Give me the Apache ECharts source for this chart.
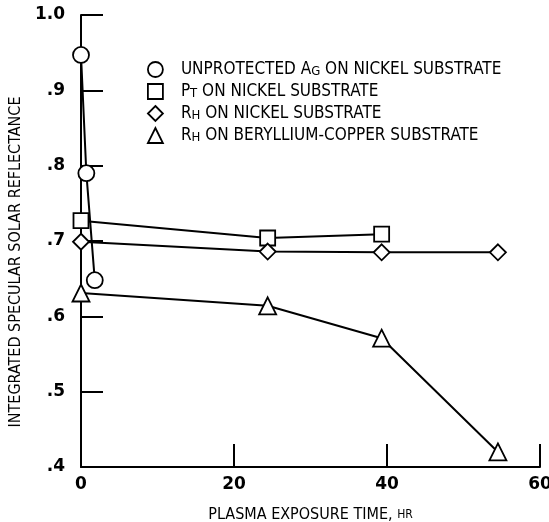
<!DOCTYPE html>
<html><head><meta charset="utf-8">
<script src="https://cdn.jsdelivr.net/npm/echarts@6/dist/echarts.min.js"></script>
<style>html,body{margin:0;padding:0;background:#fff}#c{width:549px;height:522px}</style>
</head><body><div id="c"></div>
<script>
const seriesNames = ['UNPROTECTED AG ON NICKEL SUBSTRATE','PT ON NICKEL SUBSTRATE','RH ON NICKEL SUBSTRATE','RH ON BERYLLIUM-COPPER SUBSTRATE'];
const agX = [0, 0.7, 1.8];
const agY = [0.947, 0.79, 0.648];
const ptX = [0, 24.4, 39.3];
const ptY = [0.727, 0.704, 0.709];
const rhNiX = [0, 24.4, 39.3, 54.5];
const rhNiY = [0.699, 0.686, 0.685, 0.685];
const rhBeX = [0, 24.4, 39.3, 54.5];
const rhBeY = [0.631, 0.614, 0.571, 0.42];
const yTickLabels = {'1':'1.0','0.9':'.9','0.8':'.8','0.7':'.7','0.6':'.6','0.5':'.5','0.4':'.4'};

const FONT = 'DejaVu Sans Condensed';
const TICKFONT = 'DejaVu Sans';
function zip(xs, ys){ return xs.map((x,i)=>[x, ys[i]]); }
const symbols = ['circle','rect','diamond','triangle'];
const sizes = [16, 15, 16, 17];
const datas = [zip(agX,agY), zip(ptX,ptY), zip(rhNiX,rhNiY), zip(rhBeX,rhBeY)];
const legendLabels = {
  [seriesNames[0]]: 'UNPROTECTED A{s|G} ON NICKEL SUBSTRATE',
  [seriesNames[1]]: 'P{s|T} ON NICKEL SUBSTRATE',
  [seriesNames[2]]: 'R{s|H} ON NICKEL SUBSTRATE',
  [seriesNames[3]]: 'R{s|H} ON BERYLLIUM-COPPER SUBSTRATE'
};
const mark = {color:'#fff', borderColor:'#000', borderWidth:1.8};
const chart = echarts.init(document.getElementById('c'));
chart.setOption({
  backgroundColor:'#fff',
  animation:false,
  textStyle:{fontFamily:FONT, color:'#000'},
  grid:{left:81, right:9, top:15, bottom:55, outerBoundsMode:'none', containLabel:false},
  legend:{
    orient:'vertical', left:142, top:56, itemGap:5, itemWidth:15, itemHeight:15,
    data: seriesNames.map((n,i)=>({name:n, icon:symbols[i], itemStyle:mark})),
    formatter: n => legendLabels[n],
    textStyle:{fontFamily:FONT, fontSize:17, color:'#000', padding:[0,0,0,13],
      rich:{s:{fontFamily:FONT, fontSize:13, color:'#000', verticalAlign:'bottom'}}},
    selectedMode:false
  },
  xAxis:{type:'value', min:0, max:60, interval:20,
    name:'PLASMA EXPOSURE TIME, {s|HR}', nameLocation:'middle', nameGap:40,
    nameTextStyle:{fontFamily:FONT, fontSize:16, color:'#000', rich:{s:{fontFamily:FONT,fontSize:12,color:'#000'}}},
    axisLine:{lineStyle:{color:'#000', width:2}},
    axisTick:{inside:true, length:23, lineStyle:{color:'#000', width:2}},
    axisLabel:{fontFamily:TICKFONT, fontWeight:'bold', fontSize:17, color:'#000', margin:9},
    splitLine:{show:false}},
  yAxis:{type:'value', min:0.4, max:1.0, interval:0.1,
    name:'INTEGRATED SPECULAR SOLAR REFLECTANCE', nameLocation:'middle', nameGap:53, nameRotate:90,
    nameTextStyle:{fontFamily:FONT, fontSize:16, color:'#000', padding:[0,42,0,0]},
    axisLine:{lineStyle:{color:'#000', width:2}},
    axisTick:{inside:true, length:22, lineStyle:{color:'#000', width:2}},
    axisLabel:{fontFamily:TICKFONT, fontWeight:'bold', fontSize:17, color:'#000', margin:16,
      formatter: v => yTickLabels[String(+v.toFixed(1))] || ''},
    splitLine:{show:false}},
  series: seriesNames.map((n,i)=>({
    name:n, type:'line', data:datas[i], symbol:symbols[i], symbolSize:sizes[i],
    showAllSymbol:true, lineStyle:{color:'#000', width:2}, itemStyle:mark, z:3
  }))
});
</script></body></html>
